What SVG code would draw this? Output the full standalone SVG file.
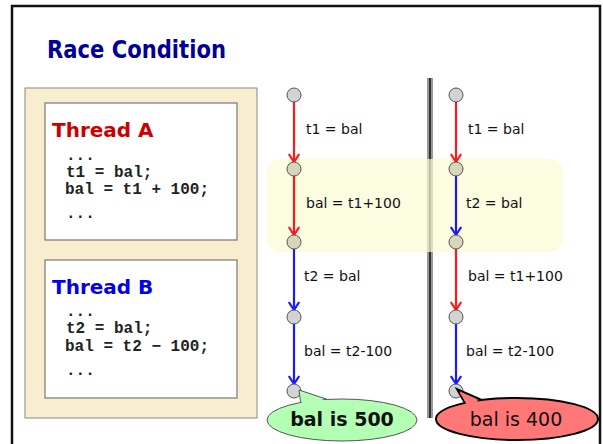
<svg xmlns="http://www.w3.org/2000/svg" width="603" height="444" viewBox="0 0 603 444">
<style>
.title{font-family:"Comic Sans MS","DejaVu Sans",sans-serif;font-size:25px;font-weight:bold;fill:#000099}
.thread{font-family:"Comic Sans MS","DejaVu Sans",sans-serif;font-size:20px;font-weight:bold}
.code{font-family:"Liberation Mono","Courier New",monospace;font-size:16px;font-weight:bold;fill:#222}
.lbl{font-family:"Comic Sans MS","DejaVu Sans",sans-serif;font-size:14px;fill:#111}
.node{fill:#d3d3d3;stroke:#555;stroke-width:1}
.node.hl{fill:#d6d6bd}
.red{stroke:#ff1a1a;stroke-width:2.2;fill:none}
.blue{stroke:#1a1aff;stroke-width:2.2;fill:none}
.card{fill:#ffffff;stroke:#777;stroke-width:1.2}
.res{font-family:"Comic Sans MS","DejaVu Sans",sans-serif;font-size:19px;fill:#111}
</style>
<defs>
<marker id="ar" viewBox="0 0 10 12" refX="9" refY="6" markerWidth="10" markerHeight="12" markerUnits="userSpaceOnUse" orient="auto">
<polyline points="1,0.8 9,6 1,11.2" fill="none" stroke="#ff1a1a" stroke-width="2.2"/>
</marker>
<marker id="ab" viewBox="0 0 10 12" refX="9" refY="6" markerWidth="10" markerHeight="12" markerUnits="userSpaceOnUse" orient="auto">
<polyline points="1,0.8 9,6 1,11.2" fill="none" stroke="#1a1aff" stroke-width="2.2"/>
</marker>
</defs>
<rect x="0" y="0" width="603" height="444" fill="#ffffff"/>
<rect id="frame" x="12" y="6" width="588" height="470" fill="#ffffff" stroke="#111" stroke-width="2.5"/>
<text class="title" x="47" y="58" textLength="179" lengthAdjust="spacingAndGlyphs">Race Condition</text>

<g id="threads">
<rect x="25" y="88" width="232" height="330" fill="#f9edcf" stroke="#888" stroke-width="1"/>
</g>
<g id="threadA">
<rect class="card" x="45" y="103" width="192" height="137"/>
<text class="thread" x="52" y="137" fill="#cc0000">Thread A</text>
<text class="code" x="66" y="160">...</text>
<text class="code" x="66" y="177">t1 = bal;</text>
<text class="code" x="65" y="194">bal = t1 + 100;</text>
<text class="code" x="66" y="218">...</text>
</g>
<g id="threadB">
<rect class="card" x="45" y="260" width="192" height="138"/>
<text class="thread" x="52" y="294" fill="#0000ee">Thread B</text>
<text class="code" x="66" y="316">...</text>
<text class="code" x="66" y="333">t2 = bal;</text>
<text class="code" x="65" y="351">bal = t2 − 100;</text>
<text class="code" x="66" y="375">...</text>
</g>

<g id="divider">
<rect x="427" y="78" width="6" height="340" fill="#999"/>
<rect x="429" y="78" width="2" height="340" fill="#333"/>
</g>

<rect id="highlight" x="267" y="159" width="296" height="93" rx="13" fill="#fbfbd4" opacity="0.7"/>

<g id="connectors">
<line class="red" x1="294" y1="102" x2="294" y2="162" marker-end="url(#ar)"/>
<line class="red" x1="294" y1="176" x2="294" y2="235" marker-end="url(#ar)"/>
<line class="blue" x1="294" y1="249" x2="294" y2="310" marker-end="url(#ab)"/>
<line class="blue" x1="294" y1="324" x2="294" y2="384" marker-end="url(#ab)"/>
<line class="red" x1="456" y1="102" x2="456" y2="162" marker-end="url(#ar)"/>
<line class="blue" x1="456" y1="176" x2="456" y2="235" marker-end="url(#ab)"/>
<line class="red" x1="456" y1="249" x2="456" y2="310" marker-end="url(#ar)"/>
<line class="blue" x1="456" y1="324" x2="456" y2="384" marker-end="url(#ab)"/>
<text class="lbl" x="306" y="134">t1 = bal</text>
<text class="lbl" x="306" y="208">bal = t1+100</text>
<text class="lbl" x="304" y="281">t2 = bal</text>
<text class="lbl" x="304" y="356">bal = t2-100</text>
<text class="lbl" x="468" y="134">t1 = bal</text>
<text class="lbl" x="466" y="208">t2 = bal</text>
<text class="lbl" x="468" y="281">bal = t1+100</text>
<text class="lbl" x="466" y="356">bal = t2-100</text>
</g>

<g id="L1"><circle class="node" cx="294" cy="95" r="7"/></g>
<g id="L2"><circle class="node hl" cx="294" cy="169" r="7"/></g>
<g id="L3"><circle class="node hl" cx="294" cy="242" r="7"/></g>
<g id="L4"><circle class="node" cx="294" cy="317" r="7"/></g>
<g id="L5"><circle class="node" cx="294" cy="391" r="7"/></g>
<g id="R1"><circle class="node" cx="456" cy="95" r="7"/></g>
<g id="R2"><circle class="node hl" cx="456" cy="169" r="7"/></g>
<g id="R3"><circle class="node hl" cx="456" cy="242" r="7"/></g>
<g id="R4"><circle class="node" cx="456" cy="317" r="7"/></g>
<g id="R5"><circle class="node" cx="456" cy="391" r="7"/></g>

<g id="result500">
<polygon points="301,406 299,390 332,401" fill="#b3ffb3" stroke="#555" stroke-width="1"/>
<ellipse cx="342" cy="420" rx="75" ry="21" fill="#b3ffb3" stroke="#555" stroke-width="1"/>
<polygon points="302,406 300.5,392 330,402" fill="#b3ffb3"/>
<text class="res" x="342" y="426" text-anchor="middle" font-weight="bold" font-size="17">bal is 500</text>
</g>
<g id="result400">
<polygon points="466,405 457,389 482,400" fill="#ff7777" stroke="#000" stroke-width="2"/>
<ellipse cx="517" cy="419" rx="81" ry="21" fill="#ff7777" stroke="#000" stroke-width="2"/>
<polygon points="467,405 459.5,392 479,401" fill="#ff7777"/>
<text class="res" x="516" y="426" text-anchor="middle">bal is 400</text>
</g>
</svg>
